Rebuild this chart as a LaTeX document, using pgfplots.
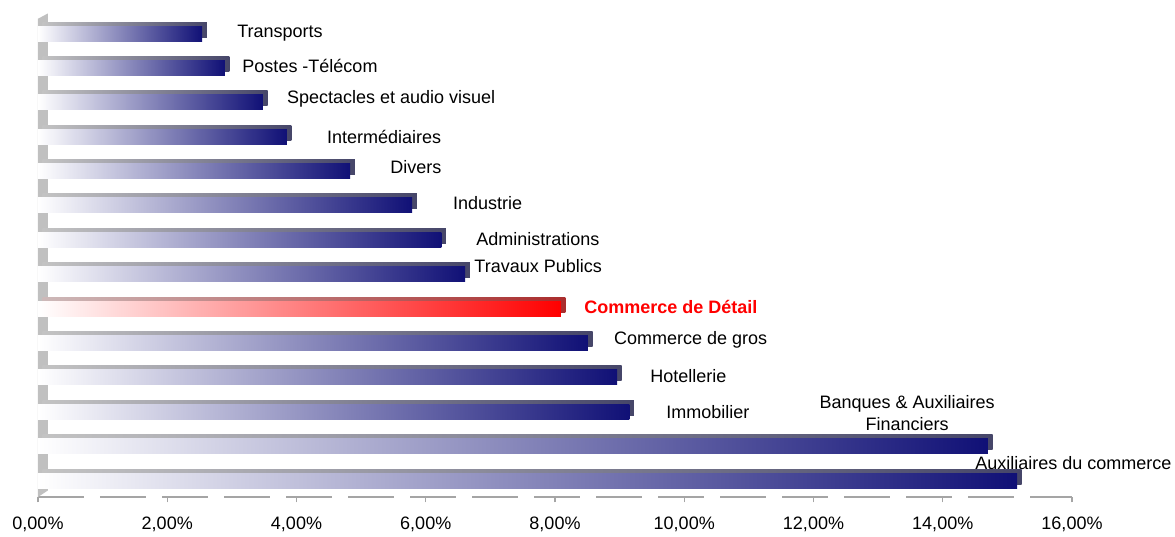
\documentclass[border=0pt]{standalone}
\usepackage{pgfplots}
\pgfplotsset{compat=1.18}
\usepackage{pgfplotstable}
\usepackage{fontspec}
\setmainfont{Liberation Sans}

\definecolor{navyb}{RGB}{16,16,118}
\definecolor{topl}{RGB}{195,195,195}
\definecolor{topr}{RGB}{70,70,105}
\definecolor{redl}{RGB}{205,185,185}
\definecolor{redr}{RGB}{170,45,45}
\definecolor{wallc}{RGB}{192,192,192}
\definecolor{axc}{RGB}{165,165,165}

% secteurs (0 = haut)
\pgfplotstableread{
y v
0 2.54
1 2.89
2 3.48
3 3.85
4 4.83
5 5.79
6 6.24
7 6.61
9 8.51
10 8.96
11 9.15
12 14.70
13 15.15
}\bleus
\pgfplotstableread{
y v
8 8.09
}\rouge

\pgfplotsset{
    barre/.style={xbar, bar shift=0pt, bar width=11.25pt, draw=none},
    dessus/.style={barre, xshift=3.5pt, yshift=3pt},
}

\begin{document}
\begin{tikzpicture}[font=\fontsize{13.5}{16.5}\selectfont]
\begin{axis}[
    scale only axis,
    width=775.5pt, height=362.7pt,
    xmin=0, xmax=16,
    ymin=-0.585, ymax=13.48,
    y dir=reverse,
    axis y line=none,
    axis x line*=bottom,
    axis line style={axc, line width=0.9pt, dash pattern=on 34.5pt off 12pt},
    xtick={0,2,...,16},
    xticklabels={{0,00\%},{2,00\%},{4,00\%},{6,00\%},{8,00\%},{10,00\%},{12,00\%},{14,00\%},{16,00\%}},
    tick align=outside,
    major tick length=4pt,
    xtick style={axc, line width=0.8pt, solid},
    xticklabel style={yshift=-7.5pt},
    clip=false,
    /pgf/number format/assume math mode=true,
]
% mur gauche
\fill[wallc] (axis cs:0,13.48) -- ([yshift=-4pt]axis cs:0,-0.585)
    -- ([xshift=7.5pt]axis cs:0,-0.585) -- ([xshift=7.5pt,yshift=5pt]axis cs:0,13.48) -- cycle;

% une barre par plot, pour que le degrade suive chaque barre
\pgfplotsinvokeforeach{0,1,2,3,4,5,6,7,9,10,11,12,13}{
  \addplot[dessus, left color=topl, right color=topr]
      table[x=v, y=y, restrict y to domain=#1:#1]{\bleus};
  \addplot[barre, left color=white, right color=navyb]
      table[x=v, y=y, restrict y to domain=#1:#1]{\bleus};
}
\addplot[dessus, left color=redl, right color=redr] table[x=v, y=y]{\rouge};
\addplot[barre, left color=white, right color=red] table[x=v, y=y]{\rouge};

\begin{scope}[every node/.style={anchor=west, inner sep=0pt}]
\node at (axis cs:3.08,0) {Transports};
\node at (axis cs:3.16,0.95) {Postes -Télécom};
\node at (axis cs:3.85,1.9) {Spectacles et audio visuel};
\node at (axis cs:4.47,3.0) {Intermédiaires};
\node at (axis cs:5.45,3.88) {Divers};
\node at (axis cs:6.42,4.93) {Industrie};
\node at (axis cs:6.78,5.98) {Administrations};
\node at (axis cs:6.75,6.77) {Travaux Publics};
\node[text=red, font=\fontsize{13.5}{16.5}\selectfont\bfseries] at (axis cs:8.45,7.96) {Commerce de Détail};
\node at (axis cs:8.91,8.92) {Commerce de gros};
\node at (axis cs:9.47,9.97) {Hotellerie};
\node at (axis cs:9.72,11.02) {Immobilier};
\node at (axis cs:14.5,12.49) {Auxiliaires du commerce};
\end{scope}
\node[align=center, inner sep=0pt] at (axis cs:13.45,11.04) {Banques \& Auxiliaires\\Financiers};

\coordinate (o) at (axis cs:0,13.48);
\end{axis}
\path (o) ++(-28.5pt,-27pt) rectangle ++(881.25pt,399.75pt);
\end{tikzpicture}
\end{document}
